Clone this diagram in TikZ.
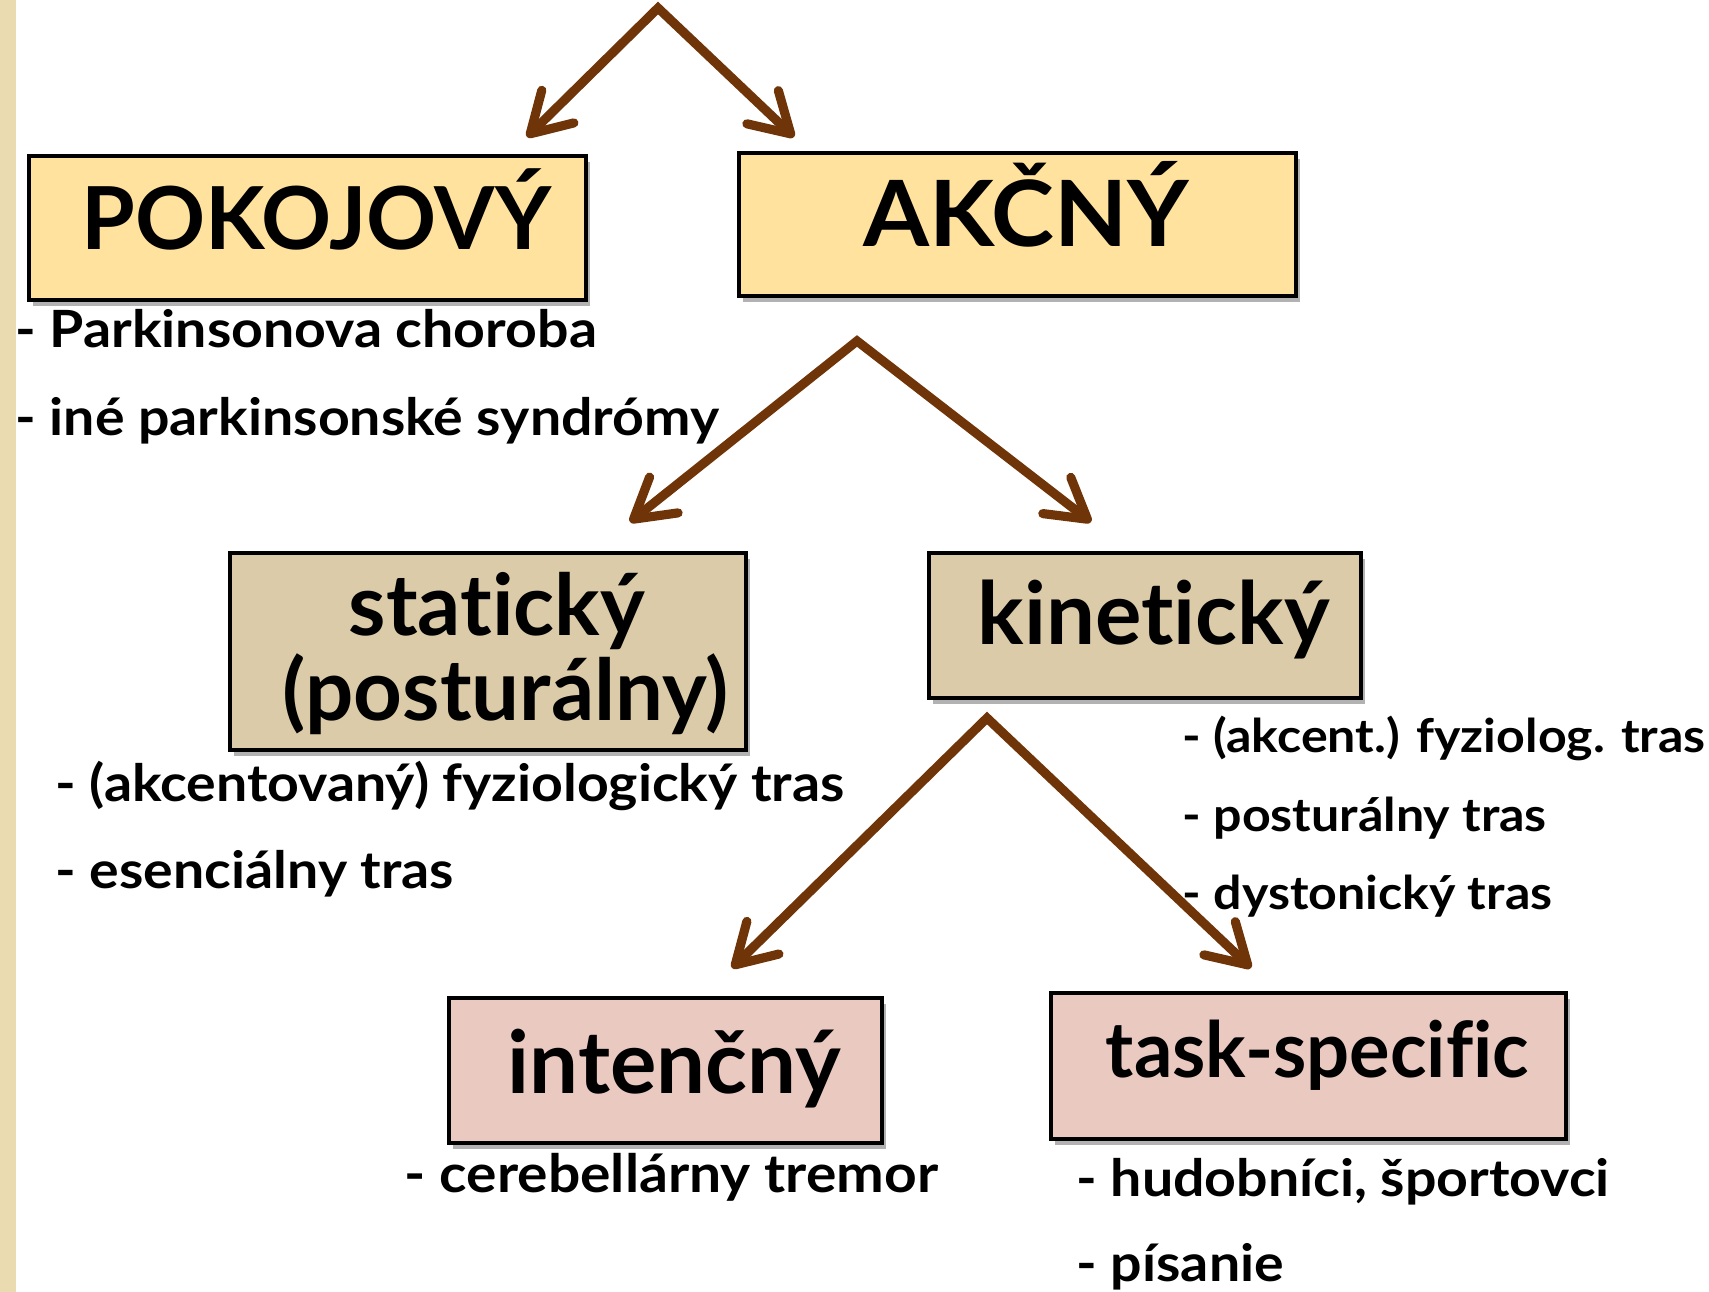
\documentclass[tikz,border=0pt]{standalone}
\usepackage{fontspec}
\setmainfont{Lato}[Ligatures=NoCommon]
\newfontfamily\itemfont{Lato}[Ligatures=NoCommon, FakeStretch=1.08]
\usetikzlibrary{arrows.meta, positioning, shadows}
\definecolor{boxyellow}{HTML}{FFE29E}
\definecolor{boxtan}{HTML}{DBCBA8}
\definecolor{boxpink}{HTML}{EACAC0}
\definecolor{arrowbrown}{HTML}{6F3407}
\definecolor{stripbeige}{HTML}{EADCB0}
\tikzset{
  tremorbox/.style={draw=black, line width=1.1pt, align=center, inner sep=0pt,
    font=\fontsize{24.7}{22.8}\selectfont\bfseries,
    execute at begin node={\hspace*{5pt}},
    drop shadow={shadow xshift=1.2pt, shadow yshift=-1.6pt, opacity=0.3, fill=black}},
  splitarrow/.style={draw=arrowbrown, line width=2.6pt, line join=miter,
    {Straight Barb[length=11pt,width=13pt,round]}-{Straight Barb[length=11pt,width=13pt,round]}},
  itemtext/.style={anchor=base west, inner sep=0pt, font=\itemfont\fontsize{14.6}{17}\selectfont\bfseries},
  smallitem/.style={itemtext, font=\itemfont\fontsize{13.2}{16}\selectfont\bfseries},
}
\begin{document}
\begin{tikzpicture}[x=0.01cm, y=-0.01cm]
  \useasboundingbox (0,0) rectangle (1709,1292);
  \fill[white] (0,0) rectangle (1709,1292);
  \fill[stripbeige] (0,0) rectangle (16,1292);
  % boxes
  \node[tremorbox, fill=boxyellow, minimum width=5.57cm, minimum height=1.44cm, text height=18pt, text depth=5.5pt] (pokojovy) at (307.5,228) {POKOJOVÝ};
  \node[tremorbox, fill=boxyellow, minimum width=5.57cm, minimum height=1.43cm, text height=18pt, text depth=5.5pt,
    font=\fontsize{26}{24}\selectfont\bfseries\addfontfeature{FakeStretch=1.04}] (akcny) at (1017.5,224.5) {AKČNÝ};
  \node[tremorbox, fill=boxtan, minimum width=5.16cm, minimum height=1.97cm, text height=44.2pt, text depth=5.2pt,
    font=\fontsize{24.2}{22.8}\selectfont\bfseries] (staticky) at (488,651.5) {statický\\\hspace*{5pt}(posturálny)};
  \node[tremorbox, fill=boxtan, minimum width=4.32cm, minimum height=1.45cm, text height=17pt, text depth=6pt] (kineticky) at (1145,625.5) {kinetický};
  \node[tremorbox, fill=boxpink, minimum width=4.33cm, minimum height=1.45cm, text height=18.3pt, text depth=5.5pt] (intencny) at (665.5,1070.5) {intenčný};
  \node[tremorbox, fill=boxpink, minimum width=5.15cm, minimum height=1.46cm, text height=14pt, text depth=7.7pt,
    font=\fontsize{22}{24}\selectfont\bfseries\addfontfeature{FakeStretch=0.98}] (taskspec) at (1308.5,1066) {task-specific};
  % lists
  \node[itemtext] (park1) at (15,348) {- Parkinsonova choroba};
  \node[itemtext] (park2) at (15,436) {- iné parkinsonské syndrómy};
  \node[itemtext] (stat1) at (55,802) {- (akcentovaný) fyziologický tras};
  \node[itemtext] (stat2) at (55,889) {- esenciálny tras};
  \node[smallitem] (kin1) at (1182,753) {- (akcent.) fyziolog. tras};
  \node[smallitem] (kin2) at (1182,832) {- posturálny tras};
  \node[smallitem] (kin3) at (1182,910) {- dystonický tras};
  \node[itemtext, font=\itemfont\fontsize{15}{17}\selectfont\bfseries] (int1) at (404,1192) {- cerebellárny tremor};
  \node[itemtext] (task1) at (1076,1196) {- hudobníci, športovci};
  \node[itemtext] (task2) at (1076,1281) {- písanie};
  % arrows
  \coordinate (apexA) at (658,8);
  \coordinate (tipA1) at (527,137);
  \coordinate (tipA2) at (794,137);
  \coordinate (apexB) at (857,341);
  \coordinate (tipB1) at (630,522);
  \coordinate (tipB2) at (1091,522);
  \coordinate (apexC) at (987,718);
  \coordinate (tipC1) at (732,968);
  \coordinate (tipC2) at (1251,968);
  \draw[splitarrow] (tipA1) -- (apexA) -- (tipA2);
  \draw[splitarrow] (tipB1) -- (apexB) -- (tipB2);
  \draw[splitarrow] (tipC1) -- (apexC) -- (tipC2);
\end{tikzpicture}
\end{document}
